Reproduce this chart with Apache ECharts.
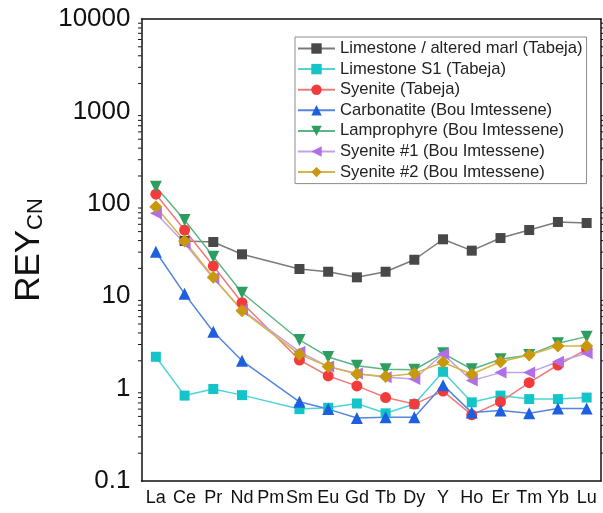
<!DOCTYPE html>
<html>
<head>
<meta charset="utf-8">
<style>
  html, body { margin: 0; padding: 0; background: #fff; }
  #chart { width: 603px; height: 513px; }
</style>
<script src="https://cdn.jsdelivr.net/npm/echarts@6/dist/echarts.min.js"></script>
</head>
<body>
<div id="chart"></div>
<script>
  // REE + Y, chondrite normalised (Pm not analysed)
  var elements = ['La', 'Ce', 'Pr', 'Nd', 'Pm', 'Sm', 'Eu', 'Gd', 'Tb', 'Dy', 'Y', 'Ho', 'Er', 'Tm', 'Yb', 'Lu'];
  var yTicks = [0.1, 1, 10, 100, 1000, 10000];
  var minorSteps = [2, 3, 4, 5, 6, 7, 8, 9];

  var limestoneMarl = [null, 39.6, 38.6, 28.4, null, 19.7, 18.4, 16.0, 18.4, 24.8, 41.3, 31.1, 42.6, 52, 63.6, 62];
  var limestoneS1   = [2.21, 0.84, 0.99, 0.85, null, 0.60, 0.62, 0.69, 0.54, 0.68, 1.52, 0.71, 0.84, 0.77, 0.77, 0.80];
  var syeniteTab    = [127, 52, 21.2, 8.5, null, 2.04, 1.37, 1.07, 0.80, 0.68, 0.94, 0.52, 0.72, 1.16, 1.80, 2.66];
  var carbonatite   = [30.3, 10.6, 4.13, 2.0, null, 0.72, 0.60, 0.48, 0.49, 0.49, 1.09, 0.55, 0.58, 0.54, 0.61, 0.61];
  var lamprophyre   = [153, 66.8, 26.8, 10.9, null, 3.36, 2.2, 1.77, 1.62, 1.6, 2.41, 1.62, 2.08, 2.31, 3.09, 3.65];
  var syenite1      = [78.9, 37.4, 15.6, 7.1, null, 2.51, 1.73, 1.46, 1.33, 1.27, 2.37, 1.22, 1.49, 1.49, 1.95, 2.41];
  var syenite2      = [93, 39.6, 16.0, 6.97, null, 2.35, 1.73, 1.44, 1.35, 1.46, 1.93, 1.43, 1.95, 2.31, 2.89, 2.89];

  var font = 'Liberation Sans, Arial, sans-serif';

  // minor tick values 0.2..9000 for the log axes
  var minorTicks = [];
  yTicks.slice(0, -1).forEach(function (d) {
    minorSteps.forEach(function (s) { minorTicks.push([0, +(d * s).toPrecision(3)]); });
  });

  function makeSeries(name, data, color, lineColor, symbol, size, rotate) {
    return {
      name: name,
      type: 'line',
      data: data,
      connectNulls: true,
      symbol: symbol,
      symbolSize: size,
      symbolRotate: rotate || 0,
      lineStyle: { color: lineColor, width: 1.5 },
      itemStyle: { color: color },
      emphasis: { disabled: true }
    };
  }

  var chart = echarts.init(document.getElementById('chart'));
  chart.setOption({
    animation: false,
    textStyle: { fontFamily: font },
    grid: { left: 141.5, right: 2, top: 19, bottom: 32 },
    legend: {
      orient: 'vertical',
      left: 295,
      top: 37,
      padding: [3, 4, 3, 2],
      borderColor: '#8c8c8c',
      borderWidth: 1,
      itemWidth: 37,
      itemHeight: 13,
      itemGap: 3.6,
      textStyle: { fontSize: 16.6, color: '#222', fontFamily: font },
      data: ['Limestone / altered marl (Tabeja)', 'Limestone S1 (Tabeja)', 'Syenite (Tabeja)',
        'Carbonatite (Bou Imtessene)', 'Lamprophyre (Bou Imtessene)', 'Syenite #1 (Bou Imtessene)',
        'Syenite #2 (Bou Imtessene)']
    },
    xAxis: [{
      type: 'category',
      data: elements,
      boundaryGap: true,
      axisLine: { lineStyle: { color: '#111', width: 1.5 } },
      axisTick: { inside: true, alignWithLabel: true, length: 6, lineStyle: { color: '#111', width: 1.2 } },
      axisLabel: { fontSize: 18, color: '#111', margin: 8, interval: 0 }
    }, {
      type: 'category',
      data: elements,
      position: 'top',
      boundaryGap: true,
      axisLine: { lineStyle: { color: '#111', width: 1.5 } },
      axisTick: { inside: true, alignWithLabel: true, length: 6, lineStyle: { color: '#111', width: 1.2 } },
      axisLabel: { show: false }
    }],
    yAxis: [{
      type: 'log',
      logBase: 10,
      min: yTicks[0],
      max: yTicks[yTicks.length - 1],
      name: '{a|REY}{b|CN}',
      nameLocation: 'middle',
      nameGap: 82,
      nameTextStyle: {
        rich: {
          a: { fontSize: 35, color: '#111', fontFamily: font, padding: [0, 0, 13, 0] },
          b: { fontSize: 22, color: '#111', fontFamily: font }
        }
      },
      axisLine: { show: true, lineStyle: { color: '#111', width: 1.5 } },
      axisTick: { inside: false, length: 6, lineStyle: { color: '#111', width: 1.2 } },
      splitLine: { show: false },
      axisLabel: {
        fontSize: 26,
        color: '#111',
        margin: 11,
        formatter: function (v) { return yTicks.indexOf(+v.toPrecision(6)) >= 0 ? String(+v.toPrecision(6)) : ''; }
      }
    }, {
      type: 'log',
      logBase: 10,
      min: yTicks[0],
      max: yTicks[yTicks.length - 1],
      position: 'right',
      axisLine: { show: true, lineStyle: { color: '#111', width: 1.5 } },
      axisTick: { inside: false, length: 6, lineStyle: { color: '#111', width: 1.2 } },
      splitLine: { show: false },
      axisLabel: { show: false }
    }],
    series: [
      {
        type: 'custom',
        silent: true,
        xAxisIndex: 0,
        yAxisIndex: 0,
        data: minorTicks,
        clip: false,
        renderItem: function (params, api) {
          var p = api.coord([0, api.value(1)]);
          var cs = params.coordSys;
          var style = { stroke: '#111', lineWidth: 1 };
          return {
            type: 'group',
            children: [
              { type: 'line', shape: { x1: cs.x - 3.5, y1: p[1], x2: cs.x, y2: p[1] }, style: style },
              { type: 'line', shape: { x1: cs.x + cs.width, y1: p[1], x2: cs.x + cs.width + 3.5, y2: p[1] }, style: style }
            ]
          };
        }
      },
      makeSeries('Limestone / altered marl (Tabeja)', limestoneMarl, '#484848', '#7a7a7a', 'rect', 10),
      makeSeries('Limestone S1 (Tabeja)', limestoneS1, '#13c4c8', '#4fd3d6', 'rect', 10),
      makeSeries('Syenite (Tabeja)', syeniteTab, '#f23b3b', '#f07a7a', 'circle', 11),
      makeSeries('Carbonatite (Bou Imtessene)', carbonatite, '#1d5fe0', '#5585dc', 'triangle', 12),
      makeSeries('Lamprophyre (Bou Imtessene)', lamprophyre, '#2e9e60', '#5db585', 'triangle', 12, 180),
      makeSeries('Syenite #1 (Bou Imtessene)', syenite1, '#b06fe8', '#c3a0ea', 'triangle', 12, 90),
      makeSeries('Syenite #2 (Bou Imtessene)', syenite2, '#c8980f', '#d6b446', 'diamond', 13)
    ]
  });
</script>
</body>
</html>
